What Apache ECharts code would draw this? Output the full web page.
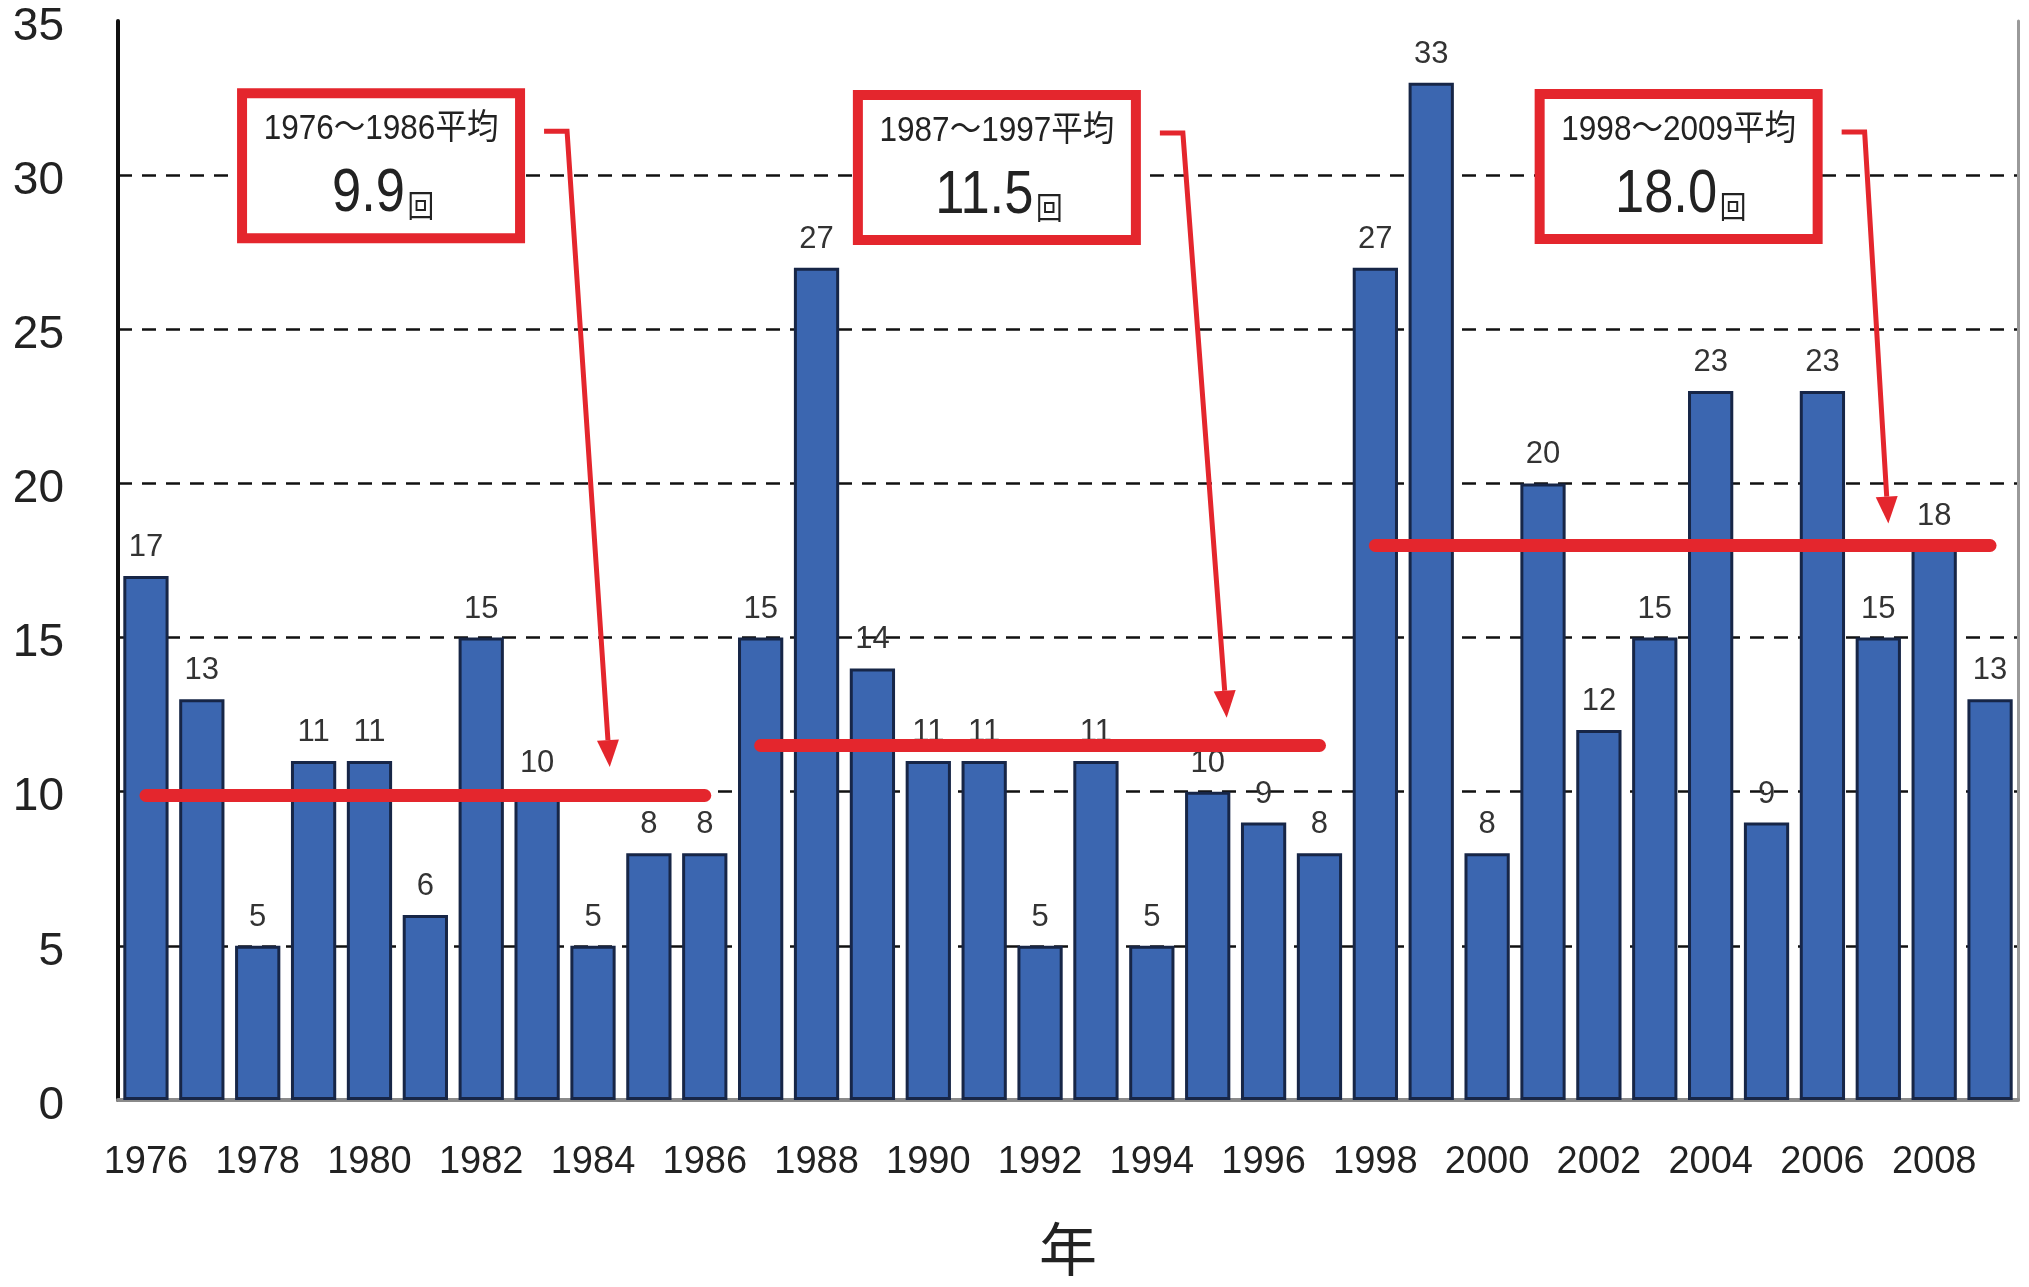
<!DOCTYPE html>
<html>
<head>
<meta charset="utf-8">
<script src="https://cdn.jsdelivr.net/npm/echarts@6/dist/echarts.min.js"></script>
<style>
  html, body { margin: 0; padding: 0; background: #ffffff; }
  #chart { width: 2029px; height: 1287px; }
</style>
</head>
<body>
<div id="chart"></div>
<script>
// Yearly counts, 1976-2009
const years = ['1976','1977','1978','1979','1980','1981','1982','1983','1984','1985','1986',
               '1987','1988','1989','1990','1991','1992','1993','1994','1995','1996','1997',
               '1998','1999','2000','2001','2002','2003','2004','2005','2006','2007','2008','2009'];
const counts = [17, 13, 5, 11, 11, 6, 15, 10, 5, 8, 8,
                15, 27, 14, 11, 11, 5, 11, 5, 10, 9, 8,
                27, 33, 8, 20, 12, 15, 23, 9, 23, 15, 18, 13];

// Period averages
const periodStart = ['1976', '1987', '1998'];
const periodEnd   = ['1986', '1997', '2009'];
const periodAvg   = [9.9, 11.5, 18.0];
const periodTitle = ['1976～1986平均', '1987～1997平均', '1998～2009平均'];
const unitText = '回';

// Value axis
const yMin = 0, yMax = 35, yStep = 5;
const xAxisName = '年';

// Callout placement, in axis units (category index, value)
const calloutLayout = [
  { boxAt: [1.72, 32.66],  tipAt: [8.30, 10.8] },
  { boxAt: [12.74, 32.60], tipAt: [19.34, 12.4] },
  { boxAt: [24.94, 32.63], tipAt: [31.18, 18.7] }
];

const SANS = '"Liberation Sans", Arial, "Noto Sans CJK JP", sans-serif';
const CJK = '"Noto Sans CJK JP", sans-serif';
const RED = '#E4262D';
const BOX_W = 278, BOX_H = 145;

const chart = echarts.init(document.getElementById('chart'));

const avgLines = periodAvg.map((v, i) => [
  { coord: [periodStart[i], v] },
  { coord: [periodEnd[i], v] }
]);

chart.setOption({
  animation: false,
  backgroundColor: '#ffffff',
  grid: { left: 118, right: 11, top: 21, bottom: 187, outerBoundsMode: 'none' },
  xAxis: [{
    type: 'category',
    data: years,
    axisLine: { show: false },
    axisTick: { show: false },
    axisLabel: { interval: 1, fontSize: 38, fontFamily: SANS, color: '#222', margin: 44 },
    name: xAxisName,
    nameLocation: 'middle',
    nameGap: 120,
    nameTextStyle: { fontSize: 58, fontFamily: CJK, color: '#222' }
  }, {
    type: 'category',
    data: years,
    position: 'top',
    axisLine: { show: true, lineStyle: { color: '#8a8a8a', width: 4 } },
    axisTick: { show: false },
    axisLabel: { show: false }
  }],
  yAxis: [{
    type: 'value',
    min: yMin, max: yMax, interval: yStep,
    axisLine: { show: true, lineStyle: { color: '#111', width: 4 } },
    axisTick: { show: false },
    axisLabel: {
      margin: 54, color: '#222',
      formatter: '{v|{value}}',
      rich: { v: { fontSize: 46, fontFamily: SANS, color: '#222', padding: [12, 0, 0, 0] } }
    },
    splitLine: {
      show: true, showMinLine: false, showMaxLine: false,
      lineStyle: { color: '#111', width: 2.5, type: [14, 10] }
    }
  }, {
    type: 'value',
    min: yMin, max: yMax, interval: yStep,
    position: 'right',
    axisLine: { show: true, lineStyle: { color: '#9a9a9a', width: 3 } },
    axisTick: { show: false },
    axisLabel: { show: false },
    splitLine: { show: false }
  }],
  series: [{
    type: 'bar',
    data: counts,
    barCategoryGap: '19%',
    itemStyle: { color: '#3B66B0', borderColor: '#172647', borderWidth: 3 },
    label: {
      show: true, position: 'top', distance: 13,
      fontSize: 31, fontFamily: SANS, color: '#333'
    },
    markLine: {
      silent: true,
      symbol: ['none', 'none'],
      label: { show: false },
      lineStyle: { color: RED, width: 13, type: 'solid', cap: 'round', opacity: 1 },
      emphasis: { disabled: true },
      data: avgLines,
      z: 5
    }
  }]
});

// Map a (fractional) category index and value to pixels
function toPx(idx, val) {
  const i0 = Math.floor(idx);
  const f = idx - i0;
  const a = chart.convertToPixel({ gridIndex: 0 }, [i0, val]);
  const b = chart.convertToPixel({ gridIndex: 0 }, [i0 + 1, val]);
  return [a[0] + (b[0] - a[0]) * f, a[1]];
}

function buildCallouts() {
  const elements = [];
  calloutLayout.forEach((c, i) => {
    const [L, T] = toPx(c.boxAt[0], c.boxAt[1]);
    const R = L + BOX_W;
    elements.push({
      type: 'rect', z: 100,
      shape: { x: L, y: T, width: BOX_W, height: BOX_H },
      style: { fill: '#ffffff', stroke: RED, lineWidth: 10 }
    });
    elements.push({
      type: 'text', z: 101,
      x: L + BOX_W / 2, y: T + 36, scaleX: 0.9,
      style: {
        text: periodTitle[i], font: '35px ' + SANS, fill: '#222',
        align: 'center', verticalAlign: 'middle'
      }
    });
    elements.push({
      type: 'text', z: 101,
      x: L + BOX_W / 2 + 2, y: T + 101, scaleX: 0.86,
      style: {
        text: '{n|' + periodAvg[i].toFixed(1) + '}{u|' + unitText + '}',
        align: 'center', verticalAlign: 'middle',
        rich: {
          n: { fontSize: 61, fontFamily: SANS, fill: '#222' },
          u: { fontSize: 31, fontFamily: CJK, fill: '#222',
               verticalAlign: 'bottom', padding: [0, 0, 4, 3] }
        }
      }
    });
    // Arrow from the box down to the average line
    const hy = T + 38;
    const h0 = [R + 24, hy], h1 = [R + 47, hy];
    const tip = toPx(c.tipAt[0], c.tipAt[1]);
    const dx = tip[0] - h1[0], dy = tip[1] - h1[1];
    const len = Math.sqrt(dx * dx + dy * dy);
    const ux = dx / len, uy = dy / len;
    const nx = -uy, ny = ux;
    const headLen = 27, headHalf = 11;
    const base = [tip[0] - ux * headLen, tip[1] - uy * headLen];
    elements.push({
      type: 'polyline', z: 100,
      shape: { points: [h0, h1, base] },
      style: { stroke: RED, lineWidth: 5, fill: null }
    });
    elements.push({
      type: 'polygon', z: 100,
      shape: { points: [tip, [base[0] + nx * headHalf, base[1] + ny * headHalf], [base[0] - nx * headHalf, base[1] - ny * headHalf]] },
      style: { fill: RED }
    });
  });
  chart.setOption({ graphic: elements });
}
buildCallouts();
</script>
</body>
</html>
